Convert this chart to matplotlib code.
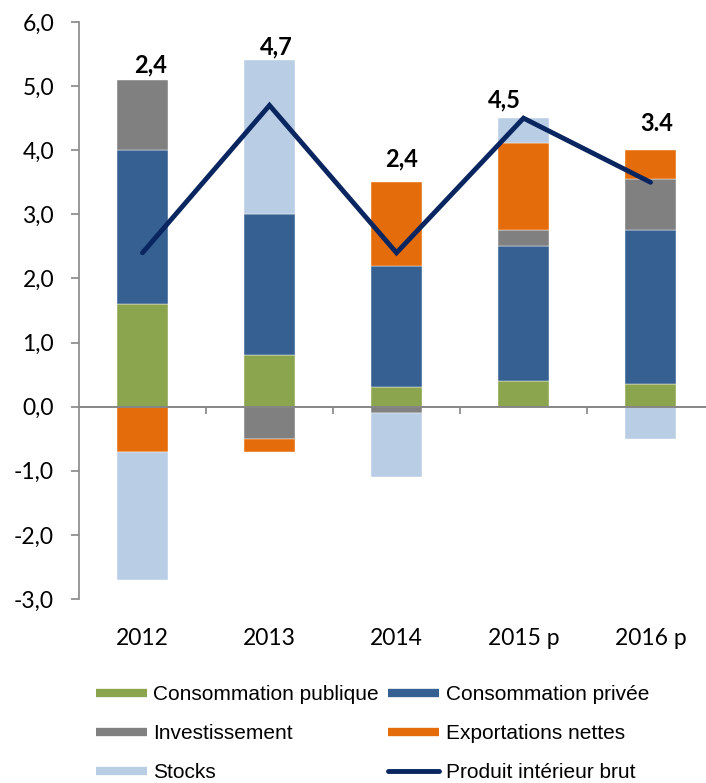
import numpy as np
import matplotlib
matplotlib.use("Agg")
import matplotlib.pyplot as plt
from matplotlib.lines import Line2D

years = ["2012", "2013", "2014", "2015 p", "2016 p"]
conso_pub = [1.6, 0.8, 0.3, 0.4, 0.35]
conso_priv = [2.4, 2.2, 1.9, 2.1, 2.4]
invest = [1.1, -0.5, -0.1, 0.25, 0.8]
export_net = [-0.7, -0.2, 1.3, 1.37, 0.45]
stocks = [-2.0, 2.4, -1.0, 0.38, -0.5]
pib = [2.4, 4.7, 2.4, 4.5, 3.5]
pib_labels = ["2,4", "4,7", "2,4", "4,5", "3.4"]

series = [
    ("Consommation publique", conso_pub, "#8BA54E"),
    ("Consommation privée", conso_priv, "#376092"),
    ("Investissement", invest, "#808080"),
    ("Exportations nettes", export_net, "#E46C0A"),
    ("Stocks", stocks, "#B9CDE5"),
]
line_color = "#0A2660"

# label placement tweaks (category units / value units)
lbl_dx = [0.06, 0.05, 0.04, -0.15, 0.05]
lbl_dy = [0.23, 0.21, 0.37, 0.28, 0.42]

fig = plt.figure(figsize=(7.06, 7.83), dpi=100)
ax = fig.add_axes([79 / 706, 184 / 783, 635 / 706, 577 / 783])

x = np.arange(len(years))
pos_bot = np.zeros(len(years))
neg_bot = np.zeros(len(years))
for name, vals, col in series:
    v = np.array(vals)
    bot = np.where(v >= 0, pos_bot, neg_bot)
    ax.bar(x, v, 0.4, bottom=bot, color=col, edgecolor="white", linewidth=0.3, zorder=2)
    pos_bot = pos_bot + np.where(v > 0, v, 0)
    neg_bot = neg_bot + np.where(v < 0, v, 0)

ax.plot(x, pib, color=line_color, lw=3.5, solid_capstyle="round",
        solid_joinstyle="miter", zorder=4)

for i in range(len(years)):
    ax.text(x[i] + lbl_dx[i], pos_bot[i] + lbl_dy[i], pib_labels[i],
            ha="center", va="center", fontsize=17, fontweight="bold",
            family="Lato", color="black", zorder=5)

ax.set_xlim(-0.5, len(years) - 0.5)
ax.set_ylim(-3, 6)
ax.set_yticks(np.arange(-3, 7, 1))
ax.yaxis.set_major_formatter(matplotlib.ticker.FuncFormatter(
    lambda v, p: ("%.1f" % v).replace(".", ",")))
ax.set_xticks(x)
ax.set_xticklabels(years)

for s in ["top", "right", "bottom"]:
    ax.spines[s].set_visible(False)
ax.spines["left"].set_color("#868686")
ax.spines["left"].set_linewidth(1.2)
ax.axhline(0, color="#868686", lw=1.4, zorder=3)
ax.vlines(x[:-1] + 0.5, -0.12, 0, color="#868686", lw=1.2, zorder=3)

ax.tick_params(axis="y", length=6, width=1.2, color="#868686", pad=12,
               labelsize=16.5)
ax.tick_params(axis="x", length=0, pad=21, labelsize=16.5)
for lbl in ax.get_xticklabels() + ax.get_yticklabels():
    lbl.set_family("Lato")

handles = {name: Line2D([], [], color=col, lw=6, solid_capstyle="butt")
           for name, vals, col in series}
handles["Produit intérieur brut"] = Line2D([], [], color=line_color, lw=3.5,
                                           solid_capstyle="round")
order = ["Consommation publique", "Investissement", "Stocks",
         "Consommation privée", "Exportations nettes", "Produit intérieur brut"]
fig.legend([handles[n] for n in order], order, loc="upper left",
           bbox_to_anchor=(96 / 706, 1 - 685 / 783), ncol=2, frameon=False,
           prop={"family": "Liberation Sans", "size": 15},
           handlelength=2.45, handletextpad=0.3, columnspacing=0.45,
           labelspacing=0.97, borderpad=0, borderaxespad=0)

fig.savefig("out.png", dpi=100)
